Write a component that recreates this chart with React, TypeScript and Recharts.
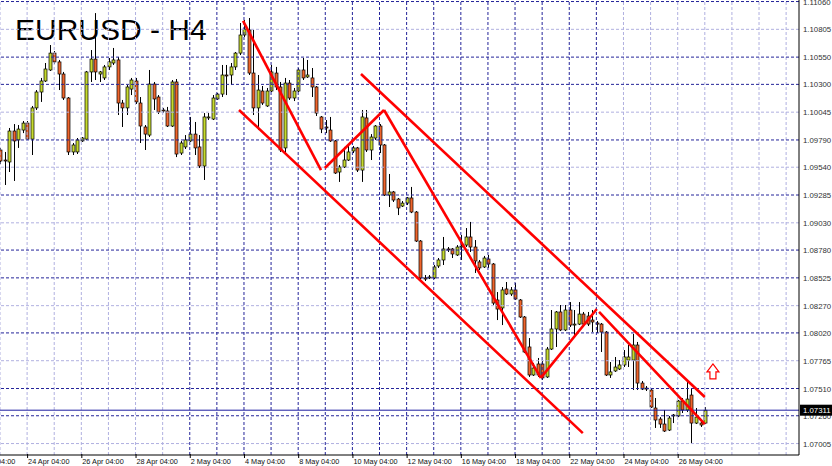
import React from 'react';
import { ComposedChart, Bar, XAxis, YAxis, ReferenceLine, ReferenceDot } from 'recharts';

// EURUSD H4 candles, one entry per bar (bar 0 = first visible bar)
const OPEN = [
  1.09698, 1.09606, 1.09588, 1.09872, 1.0979, 1.09881, 1.09945, 1.09798, 1.10084, 1.1023,
  1.10331, 1.10432, 1.10587, 1.10506, 1.10395, 1.10175, 1.0968, 1.0968, 1.09781, 1.09798,
  1.10414, 1.10532, 1.10395, 1.10359, 1.1046, 1.10496, 1.10524, 1.10129, 1.10084, 1.10257,
  1.10331, 1.10129, 1.09909, 1.09835, 1.10303, 1.10184, 1.10065, 1.10056, 1.09918, 1.10322,
  1.0967, 1.09726, 1.09781, 1.09844, 1.09726, 1.09551, 1.09992, 1.09982, 1.10166, 1.10211,
  1.10386, 1.10386, 1.1046, 1.10587, 1.10753, 1.10799, 1.10404, 1.10084, 1.10239, 1.10102,
  1.10239, 1.10404, 1.10276, 1.09717, 1.10312, 1.10175, 1.10239, 1.10432, 1.10368, 1.10359,
  1.10276, 1.10001, 1.09909, 1.09881, 1.09781, 1.09496, 1.09542, 1.09606, 1.09689, 1.09717,
  1.09514, 1.09992, 1.09698, 1.09808, 1.09918, 1.09744, 1.09285, 1.09313, 1.09248, 1.09184,
  1.09211, 1.09258, 1.09129, 1.08863, 1.08524, 1.08524, 1.08524, 1.08634, 1.08689, 1.0879,
  1.0879, 1.08735, 1.08808, 1.08826, 1.089, 1.08808, 1.08671, 1.08625, 1.08698, 1.08652,
  1.08322, 1.08249, 1.08423, 1.08377, 1.08414, 1.08322, 1.08166, 1.07891, 1.07634, 1.07735,
  1.07735, 1.07616, 1.07872, 1.08056, 1.08212, 1.08047, 1.0823, 1.08092, 1.08101, 1.08193,
  1.08175, 1.08138, 1.08111, 1.08101, 1.08028, 1.07634, 1.07671, 1.07689, 1.07726, 1.07771,
  1.07771, 1.07909, 1.0756, 1.07514, 1.07496, 1.07331, 1.0723, 1.07184, 1.07129, 1.07258,
  1.07258, 1.07395, 1.07313, 1.0745, 1.07193, 1.07193, 1.07193,
];
const HIGH = [
  1.09717, 1.0968, 1.099, 1.09936, 1.09927, 1.09964, 1.09964, 1.10102, 1.10248, 1.10359,
  1.10496, 1.10661, 1.10606, 1.10524, 1.10414, 1.10184, 1.09762, 1.09808, 1.09817, 1.10423,
  1.10615, 1.10954, 1.10423, 1.10478, 1.10542, 1.10634, 1.10551, 1.10157, 1.10294, 1.10359,
  1.10359, 1.10184, 1.09927, 1.10432, 1.10322, 1.10202, 1.10084, 1.10093, 1.1034, 1.10349,
  1.09781, 1.09835, 1.10001, 1.09955, 1.09835, 1.10037, 1.10037, 1.10202, 1.10221, 1.10478,
  1.10478, 1.10496, 1.10597, 1.10863, 1.10891, 1.10909, 1.10799, 1.10386, 1.10285, 1.10267,
  1.10478, 1.1046, 1.10322, 1.10359, 1.1034, 1.10267, 1.1045, 1.10542, 1.10524, 1.1045,
  1.10285, 1.1001, 1.09973, 1.10001, 1.0979, 1.0956, 1.09726, 1.09744, 1.09735, 1.09726,
  1.10065, 1.10065, 1.09844, 1.09927, 1.09936, 1.09753, 1.09478, 1.09322, 1.09258, 1.0923,
  1.09267, 1.09359, 1.09138, 1.08872, 1.08551, 1.08551, 1.08643, 1.08707, 1.089, 1.08808,
  1.08799, 1.08826, 1.08918, 1.08982, 1.09038, 1.08872, 1.08689, 1.08726, 1.08735, 1.08661,
  1.08395, 1.08441, 1.08487, 1.08441, 1.08478, 1.08331, 1.08175, 1.07973, 1.07744, 1.0779,
  1.07762, 1.07891, 1.0823, 1.08221, 1.08276, 1.08276, 1.08303, 1.0823, 1.08303, 1.08212,
  1.08212, 1.0823, 1.08129, 1.08111, 1.08037, 1.07753, 1.07799, 1.07771, 1.07863, 1.07909,
  1.0801, 1.07937, 1.07579, 1.07533, 1.07505, 1.07423, 1.07248, 1.07313, 1.07258, 1.07276,
  1.07404, 1.07423, 1.0757, 1.07514, 1.07331, 1.07221, 1.0734,
];
const LOW = [
  1.09569, 1.09377, 1.09496, 1.09414, 1.09717, 1.09853, 1.0979, 1.09652, 1.10065, 1.10139,
  1.10322, 1.10423, 1.10487, 1.10248, 1.10157, 1.09652, 1.09652, 1.09661, 1.09772, 1.0979,
  1.10322, 1.1034, 1.10322, 1.1034, 1.10432, 1.10478, 1.10019, 1.09909, 1.10019, 1.10202,
  1.1012, 1.09762, 1.09698, 1.09817, 1.10065, 1.10028, 1.10037, 1.09909, 1.09909, 1.09633,
  1.09652, 1.09707, 1.09772, 1.09652, 1.09533, 1.09423, 1.09973, 1.09973, 1.10157, 1.10184,
  1.10202, 1.10294, 1.10432, 1.10569, 1.10735, 1.10386, 1.10019, 1.09881, 1.10111, 1.10093,
  1.1023, 1.10248, 1.0968, 1.09652, 1.10157, 1.10147, 1.1023, 1.1034, 1.10359, 1.10184,
  1.1001, 1.09853, 1.09853, 1.09772, 1.09478, 1.09405, 1.09533, 1.09597, 1.0967, 1.09496,
  1.09405, 1.0968, 1.09606, 1.0979, 1.0967, 1.09276, 1.09175, 1.09221, 1.09101, 1.09175,
  1.09193, 1.09119, 1.08854, 1.08505, 1.08496, 1.08514, 1.08514, 1.08616, 1.08643, 1.08762,
  1.08707, 1.08726, 1.08689, 1.08808, 1.08762, 1.0857, 1.08597, 1.08616, 1.08616, 1.08276,
  1.08138, 1.08092, 1.08368, 1.08359, 1.08322, 1.08157, 1.07835, 1.07616, 1.07625, 1.07616,
  1.07588, 1.07607, 1.07863, 1.07891, 1.08037, 1.08037, 1.08074, 1.08001, 1.08092, 1.08074,
  1.08083, 1.08028, 1.08019, 1.07845, 1.07625, 1.07607, 1.07662, 1.0768, 1.07707, 1.07707,
  1.07496, 1.07496, 1.07496, 1.07487, 1.07331, 1.07148, 1.07148, 1.07111, 1.0712, 1.07193,
  1.07248, 1.07285, 1.07294, 1.07009, 1.07184, 1.07157, 1.07184,
];
const CLOSE = [
  1.09597, 1.09597, 1.09872, 1.09781, 1.0989, 1.09945, 1.09798, 1.10084, 1.1023, 1.10331,
  1.10441, 1.10587, 1.10506, 1.10395, 1.10175, 1.0968, 1.09744, 1.0979, 1.09808, 1.10414,
  1.10532, 1.10414, 1.10414, 1.1046, 1.10506, 1.10524, 1.10129, 1.10084, 1.10276, 1.1034,
  1.10139, 1.09918, 1.09844, 1.10303, 1.10166, 1.10047, 1.10056, 1.09918, 1.10322, 1.09661,
  1.09762, 1.0979, 1.09844, 1.09717, 1.09551, 1.10001, 1.10001, 1.10175, 1.10211, 1.10386,
  1.10377, 1.1046, 1.10587, 1.10753, 1.10808, 1.10404, 1.10084, 1.10248, 1.10129, 1.10239,
  1.10414, 1.10276, 1.09698, 1.10312, 1.10175, 1.10239, 1.10432, 1.10359, 1.10386, 1.10276,
  1.10037, 1.0989, 1.099, 1.09781, 1.09487, 1.09542, 1.09606, 1.0968, 1.09717, 1.09514,
  1.10001, 1.09698, 1.09817, 1.09918, 1.09744, 1.09285, 1.09313, 1.09239, 1.09166, 1.09211,
  1.09258, 1.09129, 1.08863, 1.08524, 1.08514, 1.08533, 1.08625, 1.08689, 1.0879, 1.08781,
  1.08744, 1.08808, 1.08817, 1.089, 1.08808, 1.0868, 1.08616, 1.08707, 1.08652, 1.08294,
  1.08239, 1.08414, 1.08377, 1.08414, 1.08331, 1.08166, 1.07845, 1.07634, 1.07698, 1.07634,
  1.07607, 1.07872, 1.08056, 1.08212, 1.08047, 1.0823, 1.08092, 1.08101, 1.08193, 1.08101,
  1.08101, 1.0812, 1.08101, 1.08028, 1.07634, 1.07662, 1.07707, 1.07726, 1.07799, 1.07799,
  1.07909, 1.0756, 1.07505, 1.07505, 1.0734, 1.07221, 1.07184, 1.0712, 1.07239, 1.07267,
  1.07395, 1.07313, 1.07413, 1.07193, 1.07248, 1.07175, 1.07311,
];

const PRICE_TICKS = [
  1.1106, 1.10805, 1.1055, 1.103, 1.10045, 1.0979, 1.0954, 1.09285, 1.0903,
  1.0878, 1.08525, 1.0827, 1.0802, 1.07765, 1.0751, 1.0726, 1.07005,
];
const LAST_PRICE = 1.07311;

// bar index where each date label starts
const DATE_TICKS = [-6, 6, 18, 30, 42, 54, 66, 78, 90, 102, 114, 126, 138, 150];
const DATE_LABELS = [
  '22 Apr 04:00', '24 Apr 04:00', '26 Apr 04:00', '28 Apr 04:00', '2 May 04:00',
  '4 May 04:00', '8 May 04:00', '10 May 04:00', '12 May 04:00', '16 May 04:00',
  '18 May 04:00', '22 May 04:00', '24 May 04:00', '26 May 04:00',
];

// hand drawn trend lines: [bar, price] -> [bar, price]
const TREND_LINES = [
  [[53.8, 1.10882], [71.05, 1.09514]],
  [[52.9, 1.10065], [129.0, 1.07101]],
  [[79.9, 1.10395], [156.0, 1.07432]],
  [[71.9, 1.09533], [85.0, 1.10065]],
  [[85.0, 1.10065], [119.7, 1.07607]],
  [[119.7, 1.07607], [132.1, 1.08239]],
  [[132.6, 1.08212], [156.0, 1.07184]],
];
const ARROW_BAR = 157.8;
const ARROW_PRICE = 1.07662;

const GREEN = '#c6da2e';
const ORANGE = '#ef652c';
const GRID_DARK = '#24249a';
const GRID_LIGHT = '#b0b0e0';
const FONT = '"Liberation Sans", Arial, sans-serif';

const data = OPEN.map((o, i) => ({
  i,
  open: o,
  high: HIGH[i],
  low: LOW[i],
  close: CLOSE[i],
  range: [LOW[i], HIGH[i]],
}));

// one vertical grid line per trading day (6 bars)
const gridCols = Array.from({ length: 30 }, (_, k) => k * 6);
const darkRowIdx = [0, 2, 3, 5, 7, 9, 10, 12, 14, 15];

const Candle = (props: any) => {
  const { x, y, width, height, payload } = props;
  if (x == null || payload == null) return null;
  const { open, close, high, low } = payload;
  const top = Math.min(y, y + height);
  const h = Math.abs(height);
  const span = high - low;
  const toY = (v: number) => (span === 0 ? top : top + ((high - v) / span) * h);
  const cx = Math.round(x + width / 2) + 0.5;
  const bTop = toY(Math.max(open, close));
  const bBot = toY(Math.min(open, close));
  const up = close >= open;
  return (
    <g>
      <line x1={cx} x2={cx} y1={top} y2={top + h} stroke="#000" strokeWidth={1} />
      <rect
        x={cx - 1.5}
        y={bTop}
        width={3}
        height={Math.max(bBot - bTop, 0.8)}
        fill={up ? GREEN : ORANGE}
        stroke="#000"
        strokeWidth={0.7}
      />
    </g>
  );
};

const DateTick = (props: any) => {
  const { x, y, payload } = props;
  const label = DATE_LABELS[DATE_TICKS.indexOf(payload.value)];
  return (
    <g>
      <line x1={x + 0.5} x2={x + 0.5} y1={y - 1} y2={y + 3} stroke="#000" />
      <text x={x + 1} y={y + 8.5} fontSize={7.3} fontFamily={FONT} fill="#111">
        {label}
      </text>
    </g>
  );
};

const PriceTick = (props: any) => {
  const { x, y, payload } = props;
  const v = payload.value as number;
  if (v === LAST_PRICE) {
    return (
      <g>
        <rect x={x + 1} y={y - 5.5} width={32} height={11} fill="#000" />
        <text x={x + 4} y={y + 3} fontSize={7.8} fontFamily={FONT} fill="#fff">
          {v.toFixed(5)}
        </text>
      </g>
    );
  }
  return (
    <text x={x + 4} y={y + 3} fontSize={7.8} fontFamily={FONT} fill="#333">
      {v.toFixed(5)}
    </text>
  );
};

const UpArrow = (props: any) => {
  const { cx, cy } = props;
  if (cx == null) return null;
  const pts = [
    [0, -8], [6, 0], [3, 0], [3, 7], [-3, 7], [-3, 0], [-6, 0],
  ].map(([dx, dy]) => `${cx + dx},${cy + dy}`).join(' ');
  return <polygon points={pts} fill="#fff" stroke="#f00" strokeWidth={1.2} />;
};

export default function App() {
  return (
    <div style={{ position: 'absolute', left: 0, top: 0, width: 832, height: 466, background: '#fff', overflow: 'hidden' }}>
      <svg width={832} height={466} style={{ position: 'absolute', left: 0, top: 0 }}>
        <text x={15} y={39.5} fontSize={30} fontFamily={FONT} fill="#000">
          EURUSD - H4
        </text>
      </svg>
      <div style={{ position: 'absolute', left: 0, top: 0 }}>
        <ComposedChart width={832} height={466} data={data} margin={{ top: 0, right: 0, bottom: 0, left: 0 }}>
          <XAxis
            dataKey="i"
            type="number"
            domain={[0, 176.85]}
            allowDataOverflow
            ticks={DATE_TICKS}
            interval={0}
            height={11}
            tickLine={false}
            tickSize={0}
            tickMargin={0}
            axisLine={{ stroke: '#000' }}
            tick={<DateTick />}
          />
          <YAxis
            orientation="right"
            type="number"
            domain={[1.069, 1.11074]}
            allowDataOverflow
            ticks={[...PRICE_TICKS, LAST_PRICE]}
            interval={0}
            width={33}
            tickLine={false}
            tickSize={0}
            tickMargin={0}
            axisLine={{ stroke: '#000' }}
            tick={<PriceTick />}
          />
          {gridCols.map((c, k) => (
            <ReferenceLine
              key={`v${k}`}
              x={c}
              stroke={k >= 7 && k <= 22 ? GRID_DARK : GRID_LIGHT}
              strokeDasharray="3 2"
              strokeWidth={1}
            />
          ))}
          {PRICE_TICKS.map((p, k) => (
            <ReferenceLine
              key={`h${k}`}
              y={p}
              stroke={darkRowIdx.includes(k) ? GRID_DARK : GRID_LIGHT}
              strokeDasharray="3 2"
              strokeWidth={1}
            />
          ))}
          <ReferenceLine y={LAST_PRICE} stroke="#1c1ca0" strokeWidth={1} />
          <Bar dataKey="range" barSize={3} shape={<Candle />} isAnimationActive={false} />
          {TREND_LINES.map((seg, k) => (
            <ReferenceLine
              key={`t${k}`}
              segment={[{ x: seg[0][0], y: seg[0][1] }, { x: seg[1][0], y: seg[1][1] }]}
              stroke="#ff0000"
              strokeWidth={2.6}
              ifOverflow="visible"
            />
          ))}
          <ReferenceDot x={ARROW_BAR} y={ARROW_PRICE} r={6} shape={<UpArrow />} ifOverflow="visible" />
        </ComposedChart>
      </div>
    </div>
  );
}
